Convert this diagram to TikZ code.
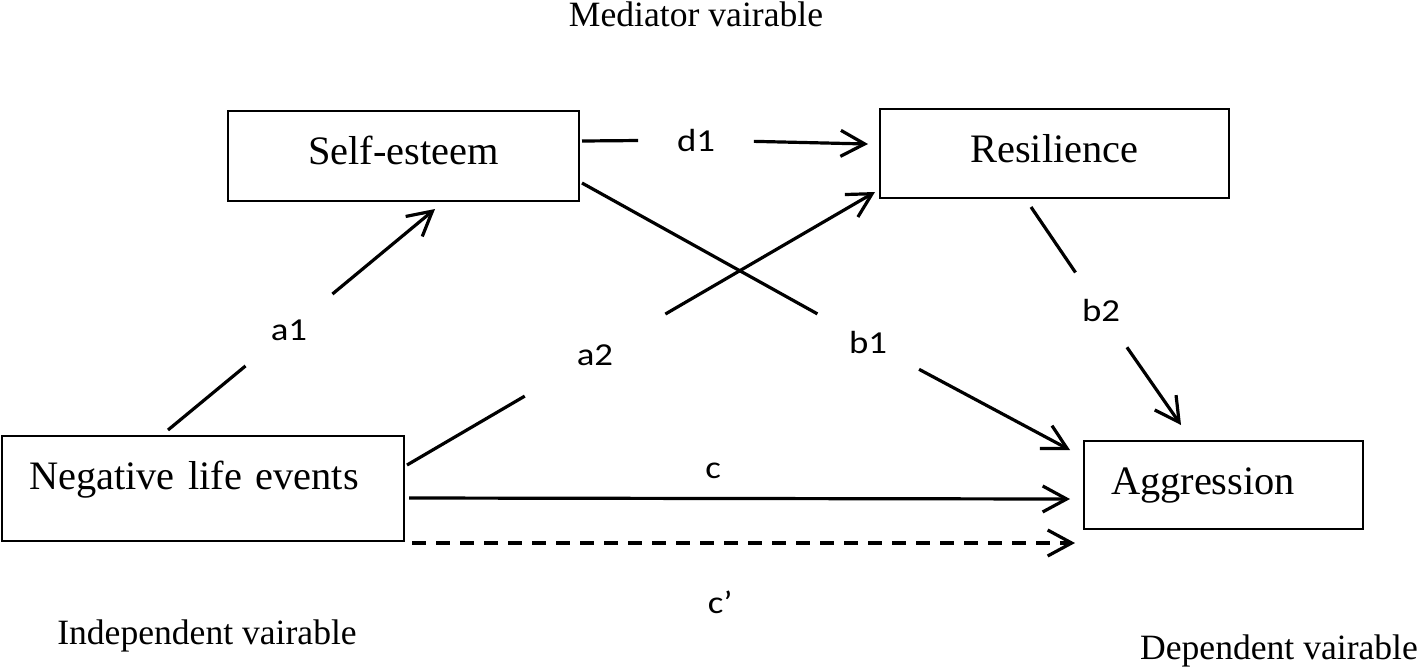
\documentclass[tikz,border=0pt]{standalone}
\usepackage{fontspec}
\setmainfont{Liberation Serif}
\newfontfamily\pathfont{Carlito}[FakeStretch=1.15]
\usetikzlibrary{arrows.meta}

\begin{document}
\begin{tikzpicture}[x=.5pt,y=-.5pt,
    varbox/.style={draw,line width=1pt,inner xsep=13.5pt,inner ysep=0pt,text height=26.5pt,align=left,font=\fontsize{20.2}{24}\selectfont},
    capt/.style={anchor=base,font=\fontsize{17.8}{21}\selectfont},
    gap/.style={circle,inner sep=0pt,font=\pathfont\fontsize{16}{19}\selectfont},
    link/.style={line width=1.6pt},
    linkarrow/.style={link,-{Straight Barb[length=12pt,width=13pt]}}]
    \useasboundingbox (0,0) rectangle (1418,666);

    % variables
    \node[varbox,anchor=north west,text width=148.5pt,text depth=18.5pt,align=center] (self) at (227,110) {Self-esteem};
    \node[varbox,anchor=north west,text width=147.5pt,text depth=18pt,align=center] (resil) at (879,108) {Resilience};
    \node[varbox,anchor=north west,text width=174pt,text depth=26pt] (neg) at (1,435) {Negative life events};
    \node[varbox,anchor=north west,text width=112.5pt,text depth=17.5pt] (agg) at (1083,440) {Aggression};

    \node[capt] (medcap) at (696,26) {Mediator vairable};
    \node[capt] (indcap) at (207,644) {Independent vairable};
    \node[capt] (depcap) at (1279,659) {Dependent vairable};

    % path labels
    \node[gap,minimum size=56pt] (a1) at (289,330) {a1};
    \node[gap,minimum size=81pt] (a2) at (595,355) {a2};
    \node[gap,minimum size=57.5pt] (b1) at (868,342) {b1};
    \node[gap,minimum size=45pt] (b2) at (1101,310) {b2};
    \node[gap,minimum size=57.5pt] (d1) at (696,140) {d1};

    % paths
    \draw[link] ([xshift=83.5pt,yshift=2.5pt]neg.north west) -- (a1);
    \draw[linkarrow] (a1) -- ([xshift=104pt,yshift=-3.5pt]self.south west);

    \draw[link] ([xshift=1pt,yshift=-15pt]neg.north east) -- (a2);
    \draw[linkarrow] (a2) -- ([xshift=-2pt,yshift=3.5pt]resil.south west);

    \draw[link] ([xshift=1pt,yshift=-36.5pt]self.north east) -- (b1);
    \draw[linkarrow] (b1) -- ([xshift=-6.5pt,yshift=-5pt]agg.north west);

    \draw[link] ([xshift=-11.75pt,yshift=-4pt]resil.south) -- (b2);
    \draw[linkarrow] (b2) -- ([xshift=-21.25pt,yshift=7.5pt]agg.north);

    \draw[link] ([xshift=1pt,yshift=-15.5pt]self.north east) -- (d1);
    \draw[linkarrow] (d1) -- ([xshift=-5.5pt,yshift=-18pt]resil.north west);

    \draw[linkarrow] ([xshift=2pt,yshift=-31.5pt]neg.north east) -- node[gap,pos=.46,yshift=14pt] (c) {c} ([xshift=-6.5pt,yshift=-7pt]agg.west);
    \draw[linkarrow,dash pattern=on 7pt off 5pt] ([xshift=3.5pt,yshift=-.5pt]neg.south east) -- node[gap,pos=.465,yshift=-29.5pt] (cp) {c’} ([xshift=-4pt,yshift=-6.5pt]agg.south west);
\end{tikzpicture}
\end{document}
